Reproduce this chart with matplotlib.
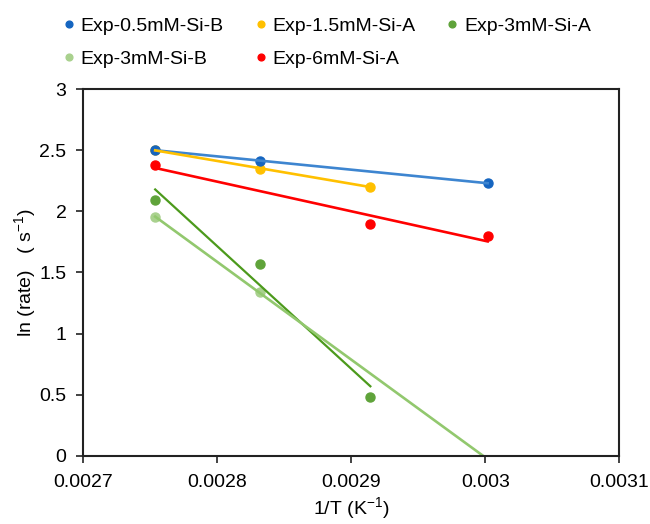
import numpy as np
import matplotlib
matplotlib.use("Agg")
import matplotlib.pyplot as plt

plt.rcParams['font.family'] = ['Liberation Sans', 'DejaVu Sans']
plt.rcParams['mathtext.default'] = 'regular'

# 1/T for 90, 80, 70, 60 degC
inv_t = [0.0027537, 0.0028317, 0.0029142, 0.0030017]

labels = ['Exp-0.5mM-Si-B', 'Exp-1.5mM-Si-A', 'Exp-3mM-Si-A', 'Exp-3mM-Si-B', 'Exp-6mM-Si-A']
x_idx = [[0, 1, 3], [0, 1, 2], [0, 1, 2], [0, 1, 3], [0, 2, 3]]
ln_rate = [
    [2.50, 2.415, 2.23],
    [2.50, 2.35, 2.20],
    [2.09, 1.57, 0.485],
    [1.95, 1.343, -0.03],
    [2.38, 1.895, 1.80],
]
marker_colors = ['#1565C0', '#FFC000', '#5FA33A', '#A9D18E', '#FF0000']
line_colors = ['#3D85D0', '#FFC000', '#4C9A1C', '#92C86E', '#FF0000']
line_widths = [1.9, 1.9, 1.6, 1.9, 1.9]

fig = plt.figure(figsize=(6.5, 5.24), dpi=100)
ax = fig.add_axes([0.128, 0.130, 0.825, 0.700])

handles = []
for i, (lab, idx, y, mc, lc, lw) in enumerate(zip(labels, x_idx, ln_rate, marker_colors, line_colors, line_widths)):
    x = np.array([inv_t[j] for j in idx])
    y = np.array(y)
    k, b = np.polyfit(x, y, 1)
    # trendlines sit over the markers, like excel
    ax.plot(x[[0, -1]], k * x[[0, -1]] + b, color=lc, lw=lw, zorder=3)
    h, = ax.plot(x, y, 'o', color=mc, ms=6.5, zorder=2.5 - 0.1 * i, label=lab)
    handles.append(h)

ax.set_xlim(0.0027, 0.0031)
ax.set_ylim(0, 3)
ax.set_xticks([0.0027, 0.0028, 0.0029, 0.003, 0.0031])
ax.set_xticklabels(['0.0027', '0.0028', '0.0029', '0.003', '0.0031'])
ax.set_yticks([0, 0.5, 1, 1.5, 2, 2.5, 3])
ax.set_yticklabels(['0', '0.5', '1', '1.5', '2', '2.5', '3'])
ax.tick_params(labelsize=14, direction='out', length=5, width=1.2, colors='#222222', labelcolor='black')
ax.tick_params(axis='x', pad=8)
ax.tick_params(axis='y', pad=7)
for s in ax.spines.values():
    s.set_linewidth(1.5)
    s.set_color('#222222')
    s.set_zorder(4)

ax.set_xlabel('1/T (K$^{-1}$)', fontsize=14, labelpad=3)
ax.set_ylabel('ln (rate)   ( s$^{-1}$)', fontsize=14, labelpad=1)

# column-major order so rows read like the reference
order = [0, 3, 1, 4, 2]
fig.legend([handles[i] for i in order], [labels[i] for i in order],
           ncol=3, loc='upper left', bbox_to_anchor=(0.07, 1.0), frameon=False,
           fontsize=14, handlelength=0.6, handletextpad=0.3, columnspacing=1.6,
           markerscale=0.75, labelspacing=0.8)

fig.savefig('out.png', dpi=100)
